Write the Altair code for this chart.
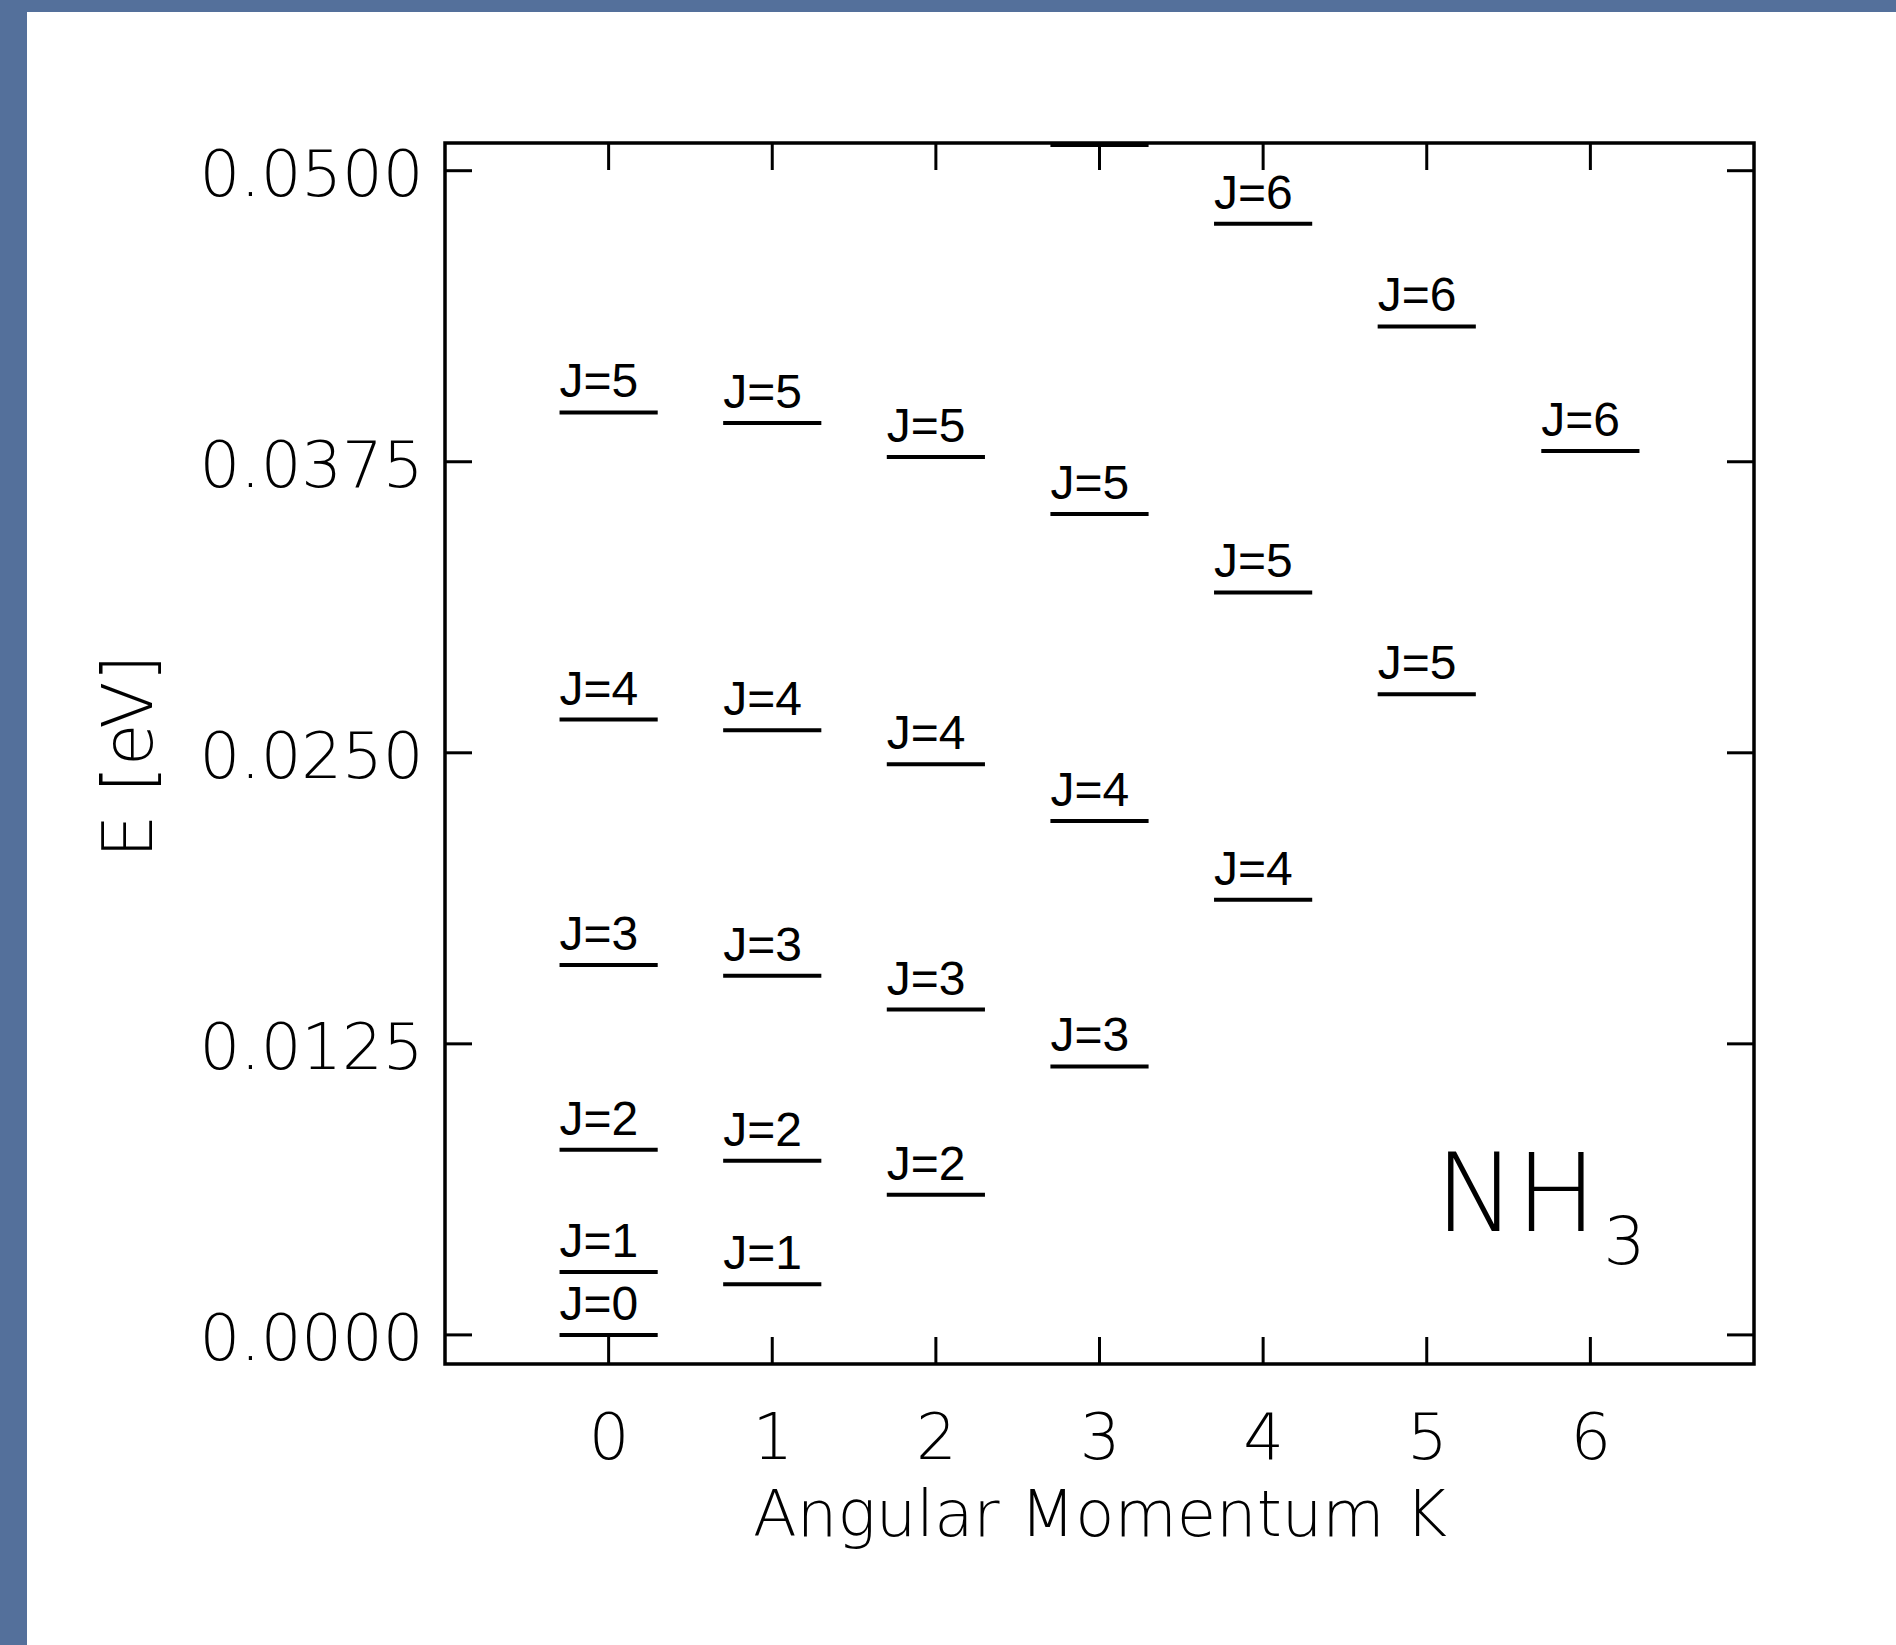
import altair as alt
import pandas as pd

# Rotational energy levels of NH3
K_vals = [0, 0, 0, 0, 0, 0,
          1, 1, 1, 1, 1,
          2, 2, 2, 2,
          3, 3, 3, 3,
          4, 4, 4,
          5, 5,
          6]
J_vals = [0, 1, 2, 3, 4, 5,
          1, 2, 3, 4, 5,
          2, 3, 4, 5,
          3, 4, 5, 6,
          4, 5, 6,
          5, 6,
          6]
E_vals = [0.0, 0.00270, 0.00795, 0.01589, 0.02643, 0.03962,
          0.00218, 0.00748, 0.01542, 0.02597, 0.03916,
          0.00602, 0.01397, 0.02451, 0.03770,
          0.01153, 0.02207, 0.03526, 0.05110,
          0.01869, 0.03189, 0.04772,
          0.02752, 0.04331,
          0.03796]

x_ticks = [0, 1, 2, 3, 4, 5, 6]
y_ticks = [0.0, 0.0125, 0.025, 0.0375, 0.05]

mol_text = ["NH", "3"]
mol_K = [5.05, 6.08]
mol_E = [0.00447, 0.00306]
mol_size = [108, 66]

W, H = 1309, 1221
TICK = 27
BLUE = "#54709b"
FONT = "DejaVu Sans"

levels = pd.DataFrame({"K": K_vals, "J": J_vals, "E": E_vals})
levels["label"] = ["J=" + str(j) for j in J_vals]
xt = pd.DataFrame({"v": x_ticks})
yt = pd.DataFrame({"v": y_ticks})
mol = pd.DataFrame({"K": mol_K, "E": mol_E, "t": mol_text, "s": mol_size})
one = pd.DataFrame({"a": [0]})

xs = alt.Scale(domain=[-1, 7], nice=False, zero=False)
ys = alt.Scale(domain=[-0.00125, 0.05119], nice=False, zero=False)

x_axis = alt.Axis(values=x_ticks, format="d", title="Angular Momentum K",
                  ticks=False, domain=False, grid=False,
                  labelFont=FONT, labelFontSize=64, labelFontWeight=200,
                  labelColor="black", labelPadding=94, labelBaseline="alphabetic",
                  titleFont=FONT, titleFontSize=64, titleFontWeight=200,
                  titleColor="black", titleY=171, titleBaseline="alphabetic")
y_axis = alt.Axis(values=y_ticks, format=".4f", title="E [eV]",
                  ticks=False, domain=False, grid=False,
                  labelFont=FONT, labelFontSize=64, labelFontWeight=200,
                  labelColor="black", labelPadding=22, labelBaseline="alphabetic",
                  labelOffset=25, labelLimit=500,
                  titleFont=FONT, titleFontSize=69, titleFontWeight=200,
                  titleColor="black", titleX=-294, titleY=613,
                  titleAlign="center", titleBaseline="alphabetic", titleAngle=270)


def X(field):
    return alt.X(field, type="quantitative", scale=xs, axis=x_axis)


def Y(field):
    return alt.Y(field, type="quantitative", scale=ys, axis=y_axis)


lines = alt.Chart(levels).transform_calculate(
    x1="datum.K - 0.3", x2="datum.K + 0.3"
).mark_rule(strokeWidth=4, color="black", clip=True).encode(
    x=X("x1"), x2="x2:Q", y=Y("E")
)

labels = alt.Chart(levels).transform_calculate(
    x1="datum.K - 0.3"
).mark_text(align="left", baseline="alphabetic", dy=-15, font="Liberation Sans",
            fontSize=48, color="black", clip=True).encode(
    x=X("x1"), y=Y("E"), text="label:N"
)

bottom_ticks = alt.Chart(xt).mark_rule(strokeWidth=3, color="black").encode(
    x=X("v"), y=alt.value(H), y2=alt.value(H - TICK))
top_ticks = alt.Chart(xt).mark_rule(strokeWidth=3, color="black").encode(
    x=X("v"), y=alt.value(0), y2=alt.value(TICK))
left_ticks = alt.Chart(yt).mark_rule(strokeWidth=3, color="black").encode(
    y=Y("v"), x=alt.value(0), x2=alt.value(TICK))
right_ticks = alt.Chart(yt).mark_rule(strokeWidth=3, color="black").encode(
    y=Y("v"), x=alt.value(W - TICK), x2=alt.value(W))

molecule = alt.Chart(mol).mark_text(align="left", baseline="alphabetic", font=FONT,
                                    fontWeight=200, color="black").encode(
    x=X("K"), y=Y("E"), text="t:N",
    size=alt.Size("s:Q", scale=None, legend=None))

band_left = alt.Chart(one).mark_rect(color=BLUE).encode(
    x=alt.value(-445), x2=alt.value(-418), y=alt.value(-143), y2=alt.value(1502))
band_top = alt.Chart(one).mark_rect(color=BLUE).encode(
    x=alt.value(-445), x2=alt.value(1451), y=alt.value(-143), y2=alt.value(-131))

chart = alt.layer(
    band_left, band_top, lines, labels, bottom_ticks, top_ticks,
    left_ticks, right_ticks, molecule
).properties(
    width=W, height=H,
    autosize=alt.AutoSizeParams(type="none"),
    padding={"left": 445, "top": 143, "right": 142, "bottom": 281},
    background="white",
).configure_view(stroke="black", strokeWidth=3.5)

chart.save("out.html", embed_options={"renderer": "svg", "actions": False})
